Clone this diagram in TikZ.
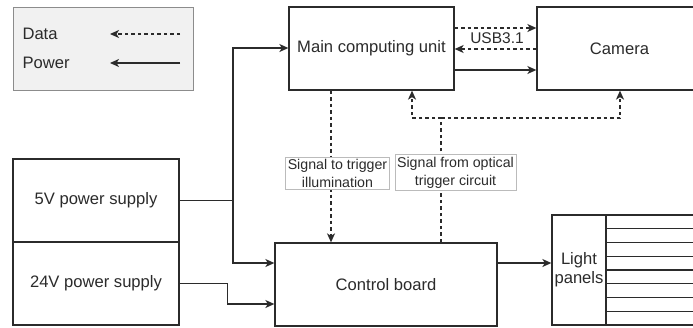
\documentclass[tikz,border=0pt]{standalone}
\usepackage{fontspec}
\setmainfont{Liberation Sans}
\usetikzlibrary{arrows.meta}
\definecolor{ink}{HTML}{2B2B2B}
\definecolor{legfill}{HTML}{F1F1F1}
\definecolor{leggray}{HTML}{8C8C8C}
\definecolor{lblgray}{HTML}{BBBBBB}
\tikzset{
  box/.style={draw=ink, line width=1.3pt, fill=white, minimum width=165pt, minimum height=83pt, inner sep=0pt, text=ink, font=\fontsize{16.6}{19}\selectfont},
  lbl/.style={draw=lblgray, line width=0.8pt, fill=white, align=center, text=ink, inner sep=2pt, font=\fontsize{14.2}{18}\selectfont},
  conn/.style={ink, line width=1.3pt, -{Stealth[length=9pt,width=8pt,inset=2.5pt]}},
  data/.style={conn, dash pattern=on 3.5pt off 3pt},
  power/.style={conn},
  plain/.style={ink, line width=1.3pt}
}
\begin{document}
\begin{tikzpicture}[x=1pt,y=-1pt]
\useasboundingbox (0,0) rectangle (693,327);
% legend
\node[draw=leggray, fill=legfill, line width=0.9pt, minimum width=180pt, minimum height=83pt, inner sep=0pt] (legend) at (103,48.5) {};
\node[anchor=west, text=ink, font=\fontsize{16.6}{19}\selectfont] (ldata) at (19,34) {Data};
\node[anchor=west, text=ink, font=\fontsize{16.6}{19}\selectfont] (lpower) at (19,63) {Power};
\coordinate (lds) at (180,34); \coordinate (lde) at (110,34);
\coordinate (lps) at (180,63); \coordinate (lpe) at (110,63);
\draw[data] (lds) -- (lde);
\draw[power] (lps) -- (lpe);
% boxes
\node[box] (mcu) at (371.5,48.5) {Main computing unit};
\node[box] (cam) at (619.5,48.5) {Camera};
\node[box, minimum width=166pt] (ps5) at (96,200.5) {5V power supply};
\node[box, minimum width=166pt] (ps24) at (96,283.5) {24V power supply};
\node[box, minimum width=222pt] (cb) at (386,284.5) {Control board};
\node[box, minimum width=54pt, minimum height=110pt, align=center] (lp) at (579,270) {Light\\panels};
% stripes
\foreach \i in {0,...,7} {
  \draw[plain] (606,215+13.75*\i) rectangle (705,215+13.75*\i+13.75);
}
% MCU <-> camera
\draw[data] (mcu.east |- 0,28) -- (cam.west |- 0,28);
\draw[data] (cam.west |- 0,49) -- (mcu.east |- 0,49);
\draw[power] (mcu.east |- 0,70) -- (cam.west |- 0,70);
\node[text=ink, font=\fontsize{15.5}{18}\selectfont, inner sep=1pt] (usb) at (497,38) {USB3.1};
% optical trigger signal
\coordinate (j1) at (441,118);
\draw[data] (cb.north -| j1) -- (j1) -| (mcu.south -| 412,0);
\draw[data] (j1) -| (cam.south -| 620,0);
% trigger illumination
\draw[data] (mcu.south -| 331,0) -- (cb.north -| 331,0);
\node[lbl] (l1) at (337.5,173.5) {Signal to trigger\\illumination};
\node[lbl] (l2) at (455.5,172.5) {Signal from optical\\trigger circuit};
% power
\coordinate (j5) at (233,200.5);
\draw[plain] (ps5.east) -- (j5);
\draw[power] (j5) |- (mcu.west |- 0,48);
\draw[power] (j5) |- (cb.west |- 0,263);
\draw[power] (ps24.east) -- ++(48,0) |- (cb.west |- 0,304);
\draw[power] (cb.east |- 0,263) -- (lp.west |- 0,263);
\end{tikzpicture}
\end{document}
